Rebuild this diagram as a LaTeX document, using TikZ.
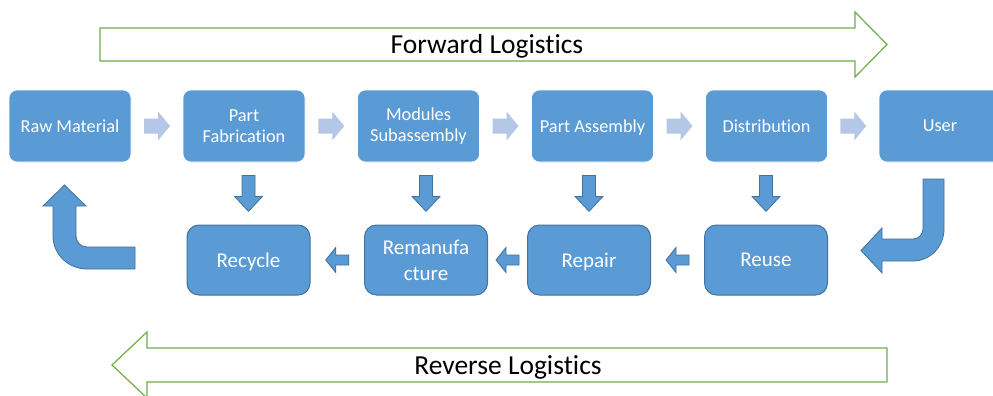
\documentclass[tikz,border=0pt]{standalone}
\usepackage{fontspec}
\setmainfont[Ligatures=NoCommon]{Carlito}
\usetikzlibrary{calc}
\definecolor{boxblue}{HTML}{5B9BD5}
\definecolor{edgeblue}{HTML}{41719C}
\definecolor{paleblue}{HTML}{B4C7E7}
\definecolor{logigreen}{HTML}{70AD47}

\begin{document}
\begin{tikzpicture}[x=1pt,y=-1pt,
  topbox/.style={draw=white, line width=0.6pt, fill=boxblue, rounded corners=8pt,
    minimum width=122pt, minimum height=72pt, text=white, align=center,
    font=\fontsize{18.3}{21}\selectfont, inner sep=0pt},
  botbox/.style={draw=edgeblue, line width=1pt, fill=boxblue, rounded corners=12pt,
    minimum width=123pt, minimum height=70pt, text=white, align=center,
    font=\fontsize{21}{26}\selectfont, inner sep=0pt},
  nodepth/.style={text depth=0pt},
  bluearrow/.style={fill=boxblue, draw=edgeblue, line width=0.8pt},
  logiarrow/.style={draw=logigreen, line width=1.2pt, fill=white},
  logitext/.style={font=\fontsize{27.5}{31}\selectfont, text=black},
  pics/fwdarrow/.style={code={
    \fill[paleblue] (-13,-7.5) -- (1,-7.5) -- (1,-14.5) -- (13,0) -- (1,14.5)
      -- (1,7.5) -- (-13,7.5) -- cycle;}},
  pics/downarrow/.style={code={
    \filldraw[bluearrow] (-6.5,-18) -- (6.5,-18) -- (6.5,3) -- (14,3) -- (0,18)
      -- (-14,3) -- (-6.5,3) -- cycle;}},
  pics/leftarrow/.style={code={
    \filldraw[bluearrow] (11.5,-5) -- (-1.5,-5) -- (-1.5,-12.5) -- (-11.5,0)
      -- (-1.5,12.5) -- (-1.5,5) -- (11.5,5) -- cycle;}},
]
\useasboundingbox (0,0) rectangle (993,396);
\clip (0,0) rectangle (993,396);
\fill[white] (0,0) rectangle (993,396);

% Forward logistics band
\draw[logiarrow] (100,28) -- (855,28) -- (855,12) -- (887,44.5) -- (855,77)
  -- (855,61) -- (100,61) -- cycle;
\node[logitext] (fwdlabel) at (487,46) {Forward Logistics};

% Reverse logistics band
\draw[logiarrow] (887,348) -- (147,348) -- (147,332) -- (112,365) -- (147,398)
  -- (147,382) -- (887,382) -- cycle;
\node[logitext] (revlabel) at (508,367) {Reverse Logistics};

% Forward chain
\node[topbox] (raw)  at (70,126)    {Raw Material};
\node[topbox] (fab)  at (244,126)   {Part\\Fabrication};
\node[topbox] (mod)  at (418.5,126) {Modules\\Subassembly};
\node[topbox,nodepth] (asm)  at (592.5,126) {Part Assembly};
\node[topbox] (dist) at (766.5,126) {Distribution};
\node[topbox] (user) at (940,126)   {User};

% Recovery options
\node[botbox,nodepth] (rec) at (248.5,260) {Recycle};
\node[botbox] (rem) at (426,260)   {Remanufa\\cture};
\node[botbox,nodepth] (rep) at (589,260) {Repair};
\node[botbox] (reu) at (766,260)   {Reuse};

% Forward steps
\pic at ($(raw.east)!.5!(fab.west)$)   {fwdarrow};
\pic at ($(fab.east)!.5!(mod.west)$)   {fwdarrow};
\pic at ($(mod.east)!.5!(asm.west)$)   {fwdarrow};
\pic at ($(asm.east)!.5!(dist.west)$)  {fwdarrow};
\pic at ($(dist.east)!.5!(user.west)$) {fwdarrow};

% Each stage to its recovery option
\pic at ($(rec.north)!.5!(rec.north |- fab.south)$) {downarrow};
\pic at ($(rem.north)!.5!(rem.north |- mod.south)$) {downarrow};
\pic at ($(rep.north)!.5!(rep.north |- asm.south)$) {downarrow};
\pic at ($(reu.north)!.5!(reu.north |- dist.south)$) {downarrow};

% Backward steps between recovery options
\pic at ($(rem.east)!.5!(rep.west)$) {leftarrow};
\pic at ($(rec.east)!.5!(rem.west)$) {leftarrow};
\pic at ($(rep.east)!.5!(reu.west)$) {leftarrow};

% Bent arrow from the user down to reuse
\filldraw[bluearrow] (923,179) -- (944,179) -- (944,229)
  .. controls (944,246.7) and (930.1,261) .. (913,261)
  -- (882,261) -- (882,273) -- (861,250.5) -- (882,228) -- (882,239) -- (913,239)
  .. controls (918.5,239) and (923,234.5) .. (923,229) -- cycle;

% Bent arrow from recycling back to raw material
\filldraw[bluearrow] (135,247) -- (87,247)
  .. controls (80.9,247) and (76,242.1) .. (76,236)
  -- (76,206) -- (86,206) -- (64.5,185) -- (43,206) -- (53,206) -- (53,236)
  .. controls (53,254.2) and (68.2,269) .. (87,269) -- (135,269) -- cycle;
\end{tikzpicture}
\end{document}
